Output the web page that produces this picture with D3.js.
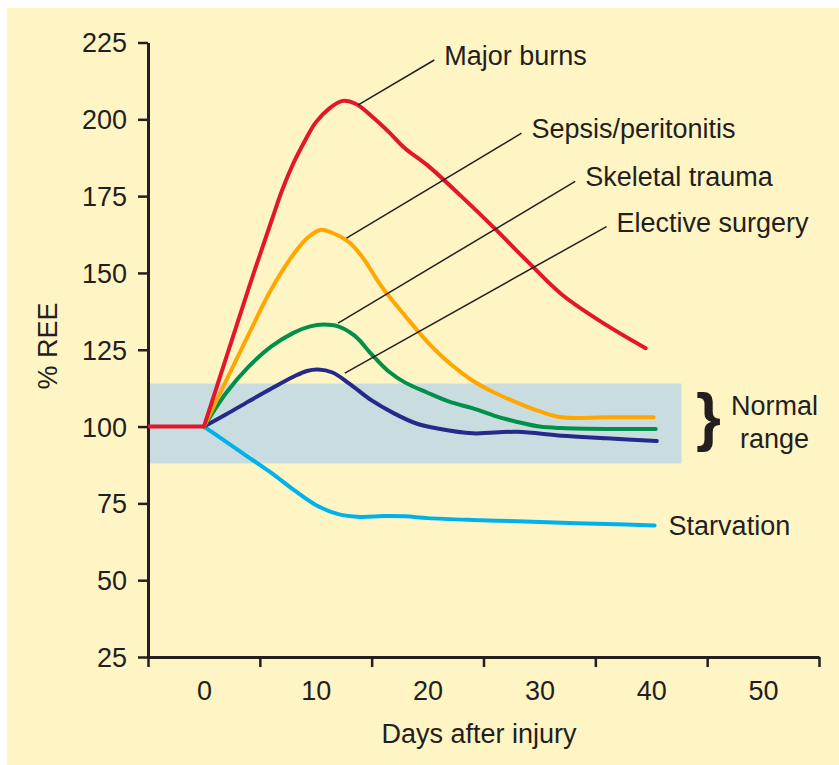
<!DOCTYPE html>
<html>
<head>
<meta charset="utf-8">
<script src="https://cdn.jsdelivr.net/npm/d3@7"></script>
<style>
  html, body { margin: 0; padding: 0; background: #ffffff; }
  svg { display: block; }
  text { font-family: "Liberation Sans", Arial, Helvetica, sans-serif; fill: #231f20; }
</style>
</head>
<body>
<svg id="chart" width="839" height="765"></svg>
<script>
// ---------------- data ----------------
const xTickMarks = [-5, 5, 15, 25, 35, 45, 55];
const xTickLabels = [0, 10, 20, 30, 40, 50];
const yTicks = [25, 50, 75, 100, 125, 150, 175, 200, 225];

const preInjury = [[-5, 100], [0, 100]];

const majorBurns = [[0,100],[2,122.5],[4,145],[6,166.5],[7,177],[8,185.7],[9,192.8],[10,199],[11.2,203.5],[12.4,206],[13.6,205],[15,201],[16.5,196],[18,190.5],[20,185],[23,175],[26,164.5],[29,153.5],[32,143],[36,133],[39.5,125.5]];
const sepsis = [[0,100],[2,115],[4,130],[6,144.5],[8,156],[9.3,161.5],[10.4,164],[11.5,163],[12.8,160.5],[14,156],[16,145],[18,136],[20,127.5],[22,120.5],[24,115],[26,111],[28,107.8],[30,105],[32,103],[36,103],[40.2,103]];
const skeletal = [[0,100],[2,111],[4,119.5],[6,126],[8,130.5],[9.5,132.6],[10.7,133.2],[12,132.6],[13.5,129.5],[15,123.5],[16.5,118],[18,114.3],[20,111],[22,108],[24,106],[26,103.5],[28,101.5],[30,100],[32,99.5],[36,99.2],[40.4,99.2]];
const elective = [[0,100],[2,104],[4,108.2],[6,112.3],[8,116.2],[9.2,118.1],[10.2,118.6],[11.5,117.6],[13,114],[15,108.5],[17,104.3],[19,101],[21,99.3],[24,97.8],[28,98.3],[32,97],[36,96.2],[40.5,95.3]];
const starvation = [[0,100],[2,95],[4,90],[6,85],[8,79.5],[10,74.5],[12,71.5],[14,70.6],[16,70.9],[18,70.8],[20,70.2],[24,69.6],[28,69.2],[32,68.7],[36,68.3],[40.3,67.8]];

const normalRange = [88, 114];
const normalRangeEndDay = 42.7;

const seriesNames = ["Starvation", "Elective surgery", "Skeletal trauma", "Sepsis/peritonitis", "Major burns"];
const seriesData = [starvation, elective, skeletal, sepsis, majorBurns];
const seriesColors = ["#00b2ea", "#26288a", "#00904a", "#ffa700", "#e3172a"];

// leader annotations (data coordinates: [day, %REE])
const leaderLabels = ["Major burns", "Sepsis/peritonitis", "Skeletal trauma", "Elective surgery"];
const leaderFrom = [[13.8, 204.7], [12.75, 161.3], [12.0, 133.7], [12.6, 117.4]];
const leaderTo = [[20.6, 219.3], [28.4, 195.5], [33.2, 179.8], [36.0, 165.1]];

// ---------------- chart ----------------
const svg = d3.select("#chart");
const FS = 27;

svg.append("rect")
  .attr("x", 7).attr("y", 8)
  .attr("width", 832).attr("height", 757)
  .attr("fill", "#fff5c4");

const x = d3.scaleLinear().domain([-5, 55]).range([148, 819]);
const y = d3.scaleLinear().domain([25, 225]).range([657, 42.5]);

// normal range band
svg.append("rect")
  .attr("x", x(-5))
  .attr("y", y(normalRange[1]))
  .attr("width", x(normalRangeEndDay) - x(-5))
  .attr("height", y(normalRange[0]) - y(normalRange[1]))
  .attr("fill", "#c9dde1");

// y axis
const yAxis = svg.append("g")
  .attr("transform", `translate(${x(-5)},0)`)
  .call(d3.axisLeft(y).tickValues(yTicks).tickSize(10).tickSizeOuter(0).tickPadding(11));
yAxis.select(".domain").attr("stroke", "#231f20").attr("stroke-width", 3);
yAxis.selectAll(".tick line").attr("stroke", "#231f20").attr("stroke-width", 2.5);
yAxis.selectAll(".tick text")
  .attr("font-size", FS)
  .attr("font-family", "Liberation Sans, Arial, sans-serif")
  .attr("fill", "#231f20")
  .attr("dy", "0.35em");

// x axis tick marks
const xAxis = svg.append("g")
  .attr("transform", `translate(0,${y(25)})`)
  .call(d3.axisBottom(x).tickValues(xTickMarks).tickSize(10).tickSizeOuter(0).tickFormat(""));
xAxis.select(".domain").attr("stroke", "#231f20").attr("stroke-width", 3);
xAxis.selectAll(".tick line").attr("stroke", "#231f20").attr("stroke-width", 2.5);

// x axis labels
const xLab = svg.append("g")
  .attr("transform", `translate(0,${y(25)})`)
  .call(d3.axisBottom(x).tickValues(xTickLabels).tickSize(0).tickPadding(24));
xLab.select(".domain").remove();
xLab.selectAll(".tick text")
  .attr("font-size", FS)
  .attr("font-family", "Liberation Sans, Arial, sans-serif")
  .attr("fill", "#231f20");

// axis titles
svg.append("text")
  .attr("transform", `translate(57,346) rotate(-90)`)
  .attr("text-anchor", "middle")
  .attr("font-size", FS)
  .text("% REE");

svg.append("text")
  .attr("x", 479).attr("y", 743)
  .attr("text-anchor", "middle")
  .attr("font-size", FS)
  .text("Days after injury");

// curves
const line = d3.line()
  .x(d => x(d[0]))
  .y(d => y(d[1]))
  .curve(d3.curveCatmullRom.alpha(0.5));

seriesData.forEach((s, i) => {
  svg.append("path")
    .datum(s)
    .attr("d", line)
    .attr("fill", "none")
    .attr("stroke", seriesColors[i])
    .attr("stroke-width", 4)
    .attr("stroke-linecap", "round")
    .attr("stroke-linejoin", "round");
});

svg.append("path")
  .datum(preInjury)
  .attr("d", d3.line().x(d => x(d[0])).y(d => y(d[1])))
  .attr("fill", "none")
  .attr("stroke", seriesColors[4])
  .attr("stroke-width", 4);

// leaders
leaderLabels.forEach((lab, i) => {
  svg.append("line")
    .attr("x1", x(leaderFrom[i][0])).attr("y1", y(leaderFrom[i][1]))
    .attr("x2", x(leaderTo[i][0])).attr("y2", y(leaderTo[i][1]))
    .attr("stroke", "#231f20")
    .attr("stroke-width", 1.5);
  svg.append("text")
    .attr("x", x(leaderTo[i][0]) + 10)
    .attr("y", y(leaderTo[i][1]) + 5)
    .attr("font-size", FS)
    .text(lab);
});

// starvation label
const last = starvation[starvation.length - 1];
svg.append("text")
  .attr("x", x(last[0]) + 14)
  .attr("y", y(last[1]))
  .attr("dy", "0.35em")
  .attr("font-size", FS)
  .text(seriesNames[0]);

// normal range bracket + label
const bandMid = (y(normalRange[0]) + y(normalRange[1])) / 2;
const bandRight = x(normalRangeEndDay);
svg.append("text")
  .attr("x", bandRight + 27)
  .attr("y", bandMid + 16)
  .attr("text-anchor", "middle")
  .attr("font-size", 64)
  .attr("font-weight", "bold")
  .text("}");
svg.append("text")
  .attr("x", bandRight + 93)
  .attr("y", 415)
  .attr("text-anchor", "middle")
  .attr("font-size", FS)
  .text("Normal");
svg.append("text")
  .attr("x", bandRight + 93)
  .attr("y", 448)
  .attr("text-anchor", "middle")
  .attr("font-size", FS)
  .text("range");
</script>
</body>
</html>
